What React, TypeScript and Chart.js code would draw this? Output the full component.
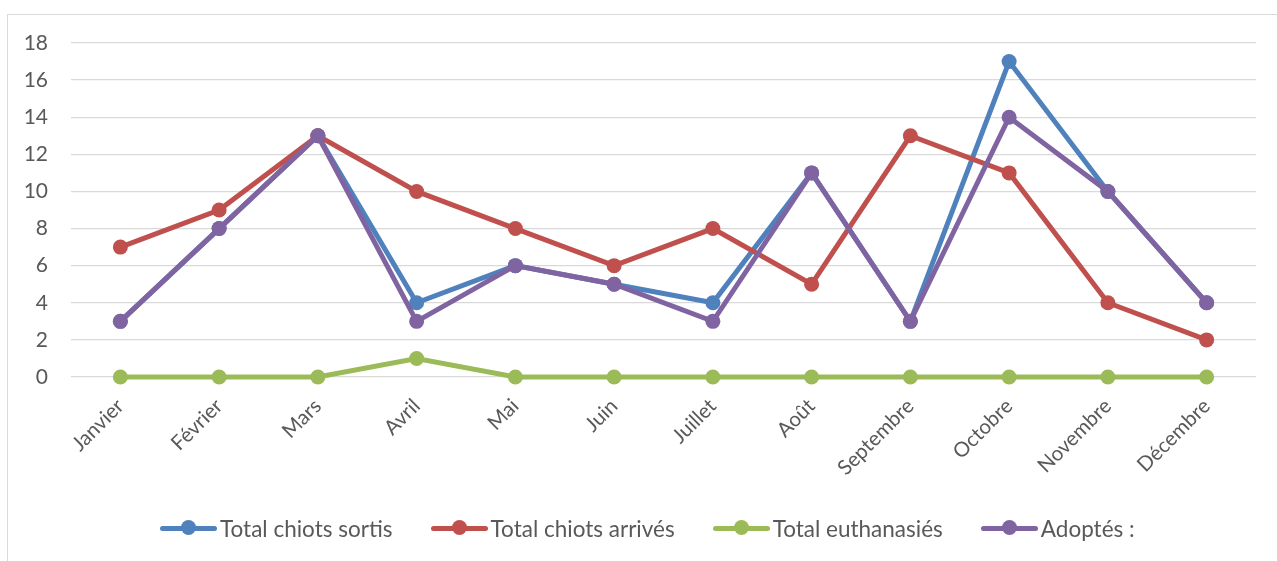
import React, { useEffect, useRef } from "react";
import { Chart, registerables } from "chart.js";

Chart.register(...registerables);

const months = ["Janvier", "Février", "Mars", "Avril", "Mai", "Juin", "Juillet", "Août", "Septembre", "Octobre", "Novembre", "Décembre"];
const sortis = [3, 8, 13, 4, 6, 5, 4, 11, 3, 17, 10, 4];
const arrives = [7, 9, 13, 10, 8, 6, 8, 5, 13, 11, 4, 2];
const euthanasies = [0, 0, 0, 1, 0, 0, 0, 0, 0, 0, 0, 0];
const adoptes = [3, 8, 13, 3, 6, 5, 3, 11, 3, 14, 10, 4];
const seriesNames = ["Total chiots sortis", "Total chiots arrivés", "Total euthanasiés", "Adoptés :"];
const seriesColors = ["#4F81BD", "#C0504D", "#9BBB59", "#8064A2"];
const seriesData = [sortis, arrives, euthanasies, adoptes];

const FONT = "Lato, 'Noto Sans', sans-serif";
const TEXT = "#595959";

export default function App() {
  const ref = useRef<HTMLCanvasElement | null>(null);
  useEffect(() => {
    if (!ref.current) return;
    const chart = new Chart(ref.current, {
      type: "line",
      data: {
        labels: months,
        datasets: seriesData.map((d, i) => ({
          label: seriesNames[i],
          data: d,
          borderColor: seriesColors[i],
          backgroundColor: seriesColors[i],
          pointBackgroundColor: seriesColors[i],
          pointBorderColor: seriesColors[i],
          borderWidth: 5,
          pointRadius: 7.5,
          pointBorderWidth: 0,
          tension: 0,
          clip: false as any,
          order: 3 - i,
        })),
      },
      options: {
        animation: false,
        responsive: false,
        maintainAspectRatio: false,
        layout: { padding: { top: 43, right: 21, left: 0, bottom: 0 } },
        plugins: { legend: { display: false }, tooltip: { enabled: false } },
        scales: {
          x: {
            offset: true,
            grid: { display: false },
            border: { display: false },
            ticks: {
              color: TEXT,
              font: { family: FONT, size: 20.5 },
              minRotation: 45,
              maxRotation: 45,
              padding: 9,
              autoSkip: false,
            },
            afterFit: (s: any) => { s.height = 184; },
          },
          y: {
            min: 0,
            max: 18,
            grid: { color: "#D9D9D9", lineWidth: 1.3, drawTicks: false },
            border: { display: false },
            ticks: {
              stepSize: 2,
              color: TEXT,
              font: { family: FONT, size: 21 },
              padding: 23,
            },
            afterFit: (s: any) => { s.width = 71; },
          },
        },
      },
    });
    return () => chart.destroy();
  }, []);

  return (
    <div style={{ position: "fixed", left: 0, top: 0, width: 1277, height: 561, background: "#fff", overflow: "hidden" }}>
      <div style={{ position: "absolute", left: 7, top: 14, width: 1400, height: 700, border: "1px solid #D9D9D9", boxSizing: "border-box" }} />
      <canvas ref={ref} width={1277} height={561} style={{ position: "absolute", left: 0, top: 0, width: 1277, height: 561 }} />
      <div style={{ position: "absolute", left: 160, top: 513, height: 30, display: "flex", alignItems: "center", gap: 38, fontFamily: FONT, fontSize: 22.5, color: TEXT, whiteSpace: "nowrap" }}>
        {seriesNames.map((n, i) => (
          <div key={n} style={{ display: "flex", alignItems: "center" }}>
            <span style={{ position: "relative", width: 57, height: 16, display: "inline-block", marginRight: 3 }}>
              <span style={{ position: "absolute", left: 0, right: 0, top: 5.5, height: 5, borderRadius: 2.5, background: seriesColors[i] }} />
              <span style={{ position: "absolute", left: 21, top: 0, width: 15, height: 15, borderRadius: 8, background: seriesColors[i] }} />
            </span>
            <span>{n}</span>
          </div>
        ))}
      </div>
    </div>
  );
}
